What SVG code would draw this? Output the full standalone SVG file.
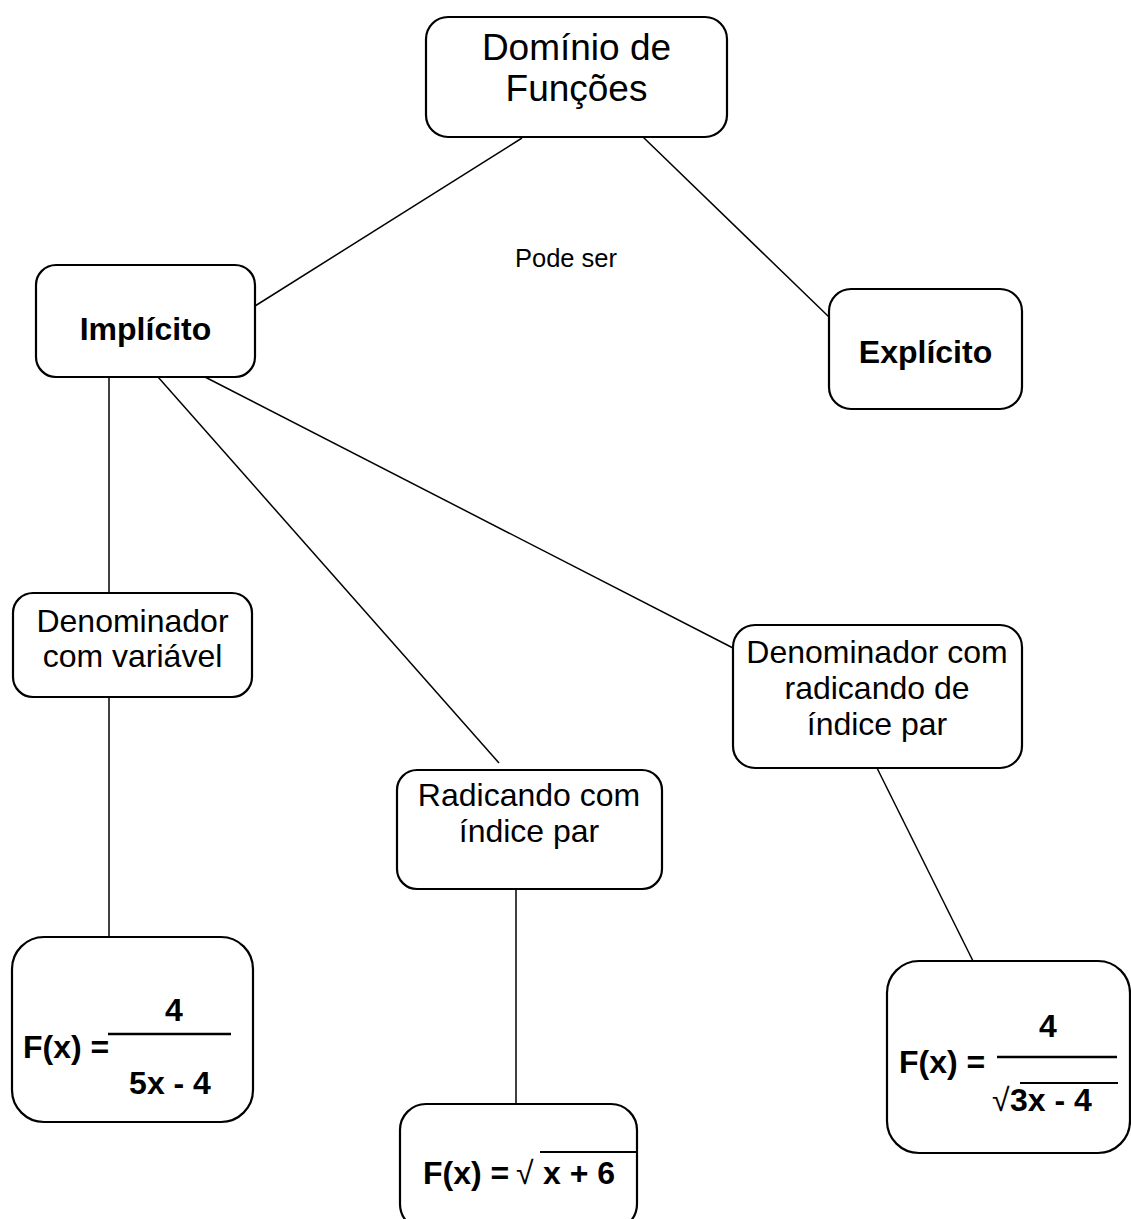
<svg xmlns="http://www.w3.org/2000/svg" width="1131" height="1219" viewBox="0 0 1131 1219">
<style>
.box{fill:#fff;stroke:#000;stroke-width:2.2}
.t{font-family:"Liberation Sans",Arial,sans-serif;font-size:32px;fill:#000}
.b{font-weight:bold}
.c{text-anchor:middle}
.big{font-size:37px}
.sm{font-size:25.5px}
.ln{stroke:#000;stroke-width:1.5;fill:none}
.bar{stroke:#000;stroke-width:2.5}
.ov{stroke:#000;stroke-width:2}
</style>
<rect width="1131" height="1219" fill="#fff"/>
<g id="connectors">
<line class="ln" x1="522" y1="138" x2="255" y2="306"/>
<line class="ln" x1="643" y1="137" x2="829" y2="317"/>
<line class="ln" x1="109" y1="377" x2="109" y2="593"/>
<line class="ln" x1="158" y1="377" x2="499" y2="763"/>
<line class="ln" x1="205" y1="377" x2="733" y2="648"/>
<line class="ln" x1="109" y1="697" x2="109" y2="937"/>
<line class="ln" x1="516" y1="889" x2="516" y2="1104"/>
<line class="ln" x1="877" y1="768" x2="973" y2="961"/>
</g>
<g id="label-pode-ser">
<text class="t sm c" x="566" y="267">Pode ser</text>
</g>
<g id="node-dominio">
<rect class="box" x="426" y="17" width="301" height="120" rx="22"/>
<text class="t big c" x="576.5" y="60">Domínio de</text>
<text class="t big c" x="576.5" y="101">Funções</text>
</g>
<g id="node-implicito">
<rect class="box" x="36" y="265" width="219" height="112" rx="20"/>
<text class="t b c" x="145.5" y="340">Implícito</text>
</g>
<g id="node-explicito">
<rect class="box" x="829" y="289" width="193" height="120" rx="22"/>
<text class="t b c" x="925.5" y="363">Explícito</text>
</g>
<g id="node-denominador-variavel">
<rect class="box" x="13" y="593" width="239" height="104" rx="20"/>
<text class="t c" x="132.5" y="632">Denominador</text>
<text class="t c" x="132.5" y="667">com variável</text>
</g>
<g id="node-radicando">
<rect class="box" x="397" y="770" width="265" height="119" rx="20"/>
<text class="t c" x="529" y="806">Radicando com</text>
<text class="t c" x="529" y="842">índice par</text>
</g>
<g id="node-denominador-radicando">
<rect class="box" x="733" y="625" width="289" height="143" rx="22"/>
<text class="t c" x="877" y="663">Denominador com</text>
<text class="t c" x="877" y="699">radicando de</text>
<text class="t c" x="877" y="735">índice par</text>
</g>
<g id="node-formula-1">
<rect class="box" x="12" y="937" width="241" height="185" rx="32"/>
<text class="t b" x="23" y="1058">F(x) =</text>
<text class="t b c" x="174" y="1021">4</text>
<line class="bar" x1="108" y1="1034" x2="231" y2="1034"/>
<text class="t b c" x="170" y="1094">5x - 4</text>
</g>
<g id="node-formula-2">
<rect class="box" x="400" y="1104" width="237" height="126" rx="26"/>
<text class="t b" x="423" y="1184">F(x) =</text>
<text class="t" x="516" y="1184">√</text>
<text class="t b" x="543" y="1184">x + 6</text>
<line class="ov" x1="540" y1="1152" x2="638" y2="1152"/>
</g>
<g id="node-formula-3">
<rect class="box" x="887" y="961" width="243" height="192" rx="32"/>
<text class="t b" x="899" y="1073">F(x) =</text>
<text class="t b c" x="1048" y="1037">4</text>
<line class="bar" x1="997" y1="1057" x2="1117" y2="1057"/>
<text class="t" x="992" y="1111">√</text>
<text class="t b" x="1010" y="1111">3x - 4</text>
<line class="ov" x1="1020" y1="1083" x2="1118" y2="1083"/>
</g>
</svg>
